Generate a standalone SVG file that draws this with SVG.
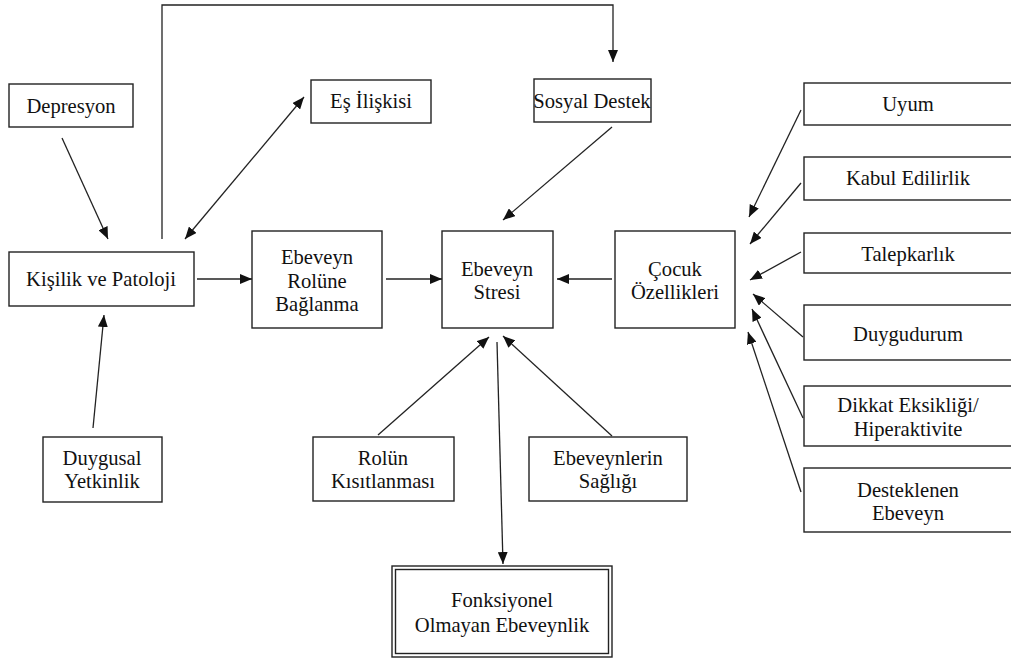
<svg xmlns="http://www.w3.org/2000/svg" width="1011" height="661" viewBox="0 0 1011 661">
<style>
.box{fill:#fff;stroke:#222;stroke-width:1.4}
.t{font-family:"Liberation Serif","Times New Roman",serif;font-size:20.6px;fill:#111;text-anchor:middle}
.c{stroke:#222;stroke-width:1.3;fill:none}
</style>
<defs>
<marker id="ah" viewBox="0 0 12 10" refX="12" refY="5" markerWidth="12" markerHeight="10" orient="auto-start-reverse" markerUnits="userSpaceOnUse">
<path d="M0,0 L12,5 L0,10 z" fill="#111"/>
</marker>
</defs>
<rect width="1011" height="661" fill="#fff"/>
<g id="connectors">
<path class="c" d="M162,239 V5 H613 V62" marker-end="url(#ah)"/>
<line class="c" x1="62" y1="138" x2="108" y2="239" marker-end="url(#ah)"/>
<line class="c" x1="185" y1="239" x2="304" y2="97" marker-start="url(#ah)" marker-end="url(#ah)"/>
<line class="c" x1="612" y1="127" x2="503" y2="220" marker-end="url(#ah)"/>
<line class="c" x1="197" y1="279" x2="252" y2="279" marker-end="url(#ah)"/>
<line class="c" x1="93" y1="428" x2="104" y2="315" marker-end="url(#ah)"/>
<line class="c" x1="386" y1="279" x2="442" y2="279" marker-end="url(#ah)"/>
<line class="c" x1="612" y1="279" x2="557" y2="279" marker-end="url(#ah)"/>
<line class="c" x1="378" y1="435" x2="489" y2="337" marker-end="url(#ah)"/>
<line class="c" x1="612" y1="436" x2="503" y2="336" marker-end="url(#ah)"/>
<line class="c" x1="497" y1="342" x2="503" y2="564" marker-end="url(#ah)"/>
<line class="c" x1="801" y1="110" x2="749" y2="217" marker-end="url(#ah)"/>
<line class="c" x1="801" y1="183" x2="750" y2="244" marker-end="url(#ah)"/>
<line class="c" x1="801" y1="252" x2="750" y2="280" marker-end="url(#ah)"/>
<line class="c" x1="803" y1="337" x2="753" y2="294" marker-end="url(#ah)"/>
<line class="c" x1="803" y1="418" x2="752" y2="309" marker-end="url(#ah)"/>
<line class="c" x1="801" y1="492" x2="748" y2="332" marker-end="url(#ah)"/>
</g>
<g id="depresyon"><rect class="box" x="9" y="84" width="124" height="43"/><text class="t" x="71" y="113">Depresyon</text></g>
<g id="es-iliskisi"><rect class="box" x="311" y="80" width="120" height="43"/><text class="t" x="371" y="108">Eş İlişkisi</text></g>
<g id="sosyal-destek"><rect class="box" x="534" y="79" width="117" height="43"/><text class="t" x="592" y="108">Sosyal Destek</text></g>
<g id="kisilik"><rect class="box" x="9" y="252" width="185" height="54"/><text class="t" x="101" y="286">Kişilik ve Patoloji</text></g>
<g id="ebeveyn-rolune"><rect class="box" x="252" y="231" width="130" height="97"/><text class="t" x="317" y="264">Ebeveyn</text><text class="t" x="317" y="288">Rolüne</text><text class="t" x="317" y="311">Bağlanma</text></g>
<g id="ebeveyn-stresi"><rect class="box" x="442" y="231" width="111" height="97"/><text class="t" x="497" y="276">Ebeveyn</text><text class="t" x="497" y="299">Stresi</text></g>
<g id="cocuk"><rect class="box" x="615" y="231" width="120" height="97"/><text class="t" x="675" y="276">Çocuk</text><text class="t" x="675" y="299">Özellikleri</text></g>
<g id="duygusal"><rect class="box" x="43" y="437" width="119" height="65"/><text class="t" x="102" y="465">Duygusal</text><text class="t" x="102" y="488">Yetkinlik</text></g>
<g id="rolun"><rect class="box" x="313" y="437" width="141" height="64"/><text class="t" x="383" y="465">Rolün</text><text class="t" x="383" y="488">Kısıtlanması</text></g>
<g id="saglik"><rect class="box" x="529" y="437" width="158" height="64"/><text class="t" x="608" y="465">Ebeveynlerin</text><text class="t" x="608" y="488">Sağlığı</text></g>
<g id="fonksiyonel"><rect class="box" x="392" y="566" width="220" height="91"/><rect class="box" x="395.5" y="569.5" width="213" height="84"/><text class="t" x="502" y="607">Fonksiyonel</text><text class="t" x="502" y="632">Olmayan Ebeveynlik</text></g>
<g id="uyum"><rect class="box" x="804" y="83" width="212" height="42"/><text class="t" x="908" y="111">Uyum</text></g>
<g id="kabul"><rect class="box" x="804" y="157" width="212" height="43"/><text class="t" x="908" y="185">Kabul Edilirlik</text></g>
<g id="talepkarlik"><rect class="box" x="804" y="233" width="212" height="40"/><text class="t" x="908" y="261">Talepkarlık</text></g>
<g id="duygudurum"><rect class="box" x="804" y="305" width="212" height="55"/><text class="t" x="908" y="341">Duygudurum</text></g>
<g id="dikkat"><rect class="box" x="804" y="386" width="212" height="60"/><text class="t" x="908" y="412">Dikkat Eksikliği/</text><text class="t" x="908" y="436">Hiperaktivite</text></g>
<g id="desteklenen"><rect class="box" x="804" y="468" width="212" height="64"/><text class="t" x="908" y="497">Desteklenen</text><text class="t" x="908" y="520">Ebeveyn</text></g>
</svg>
